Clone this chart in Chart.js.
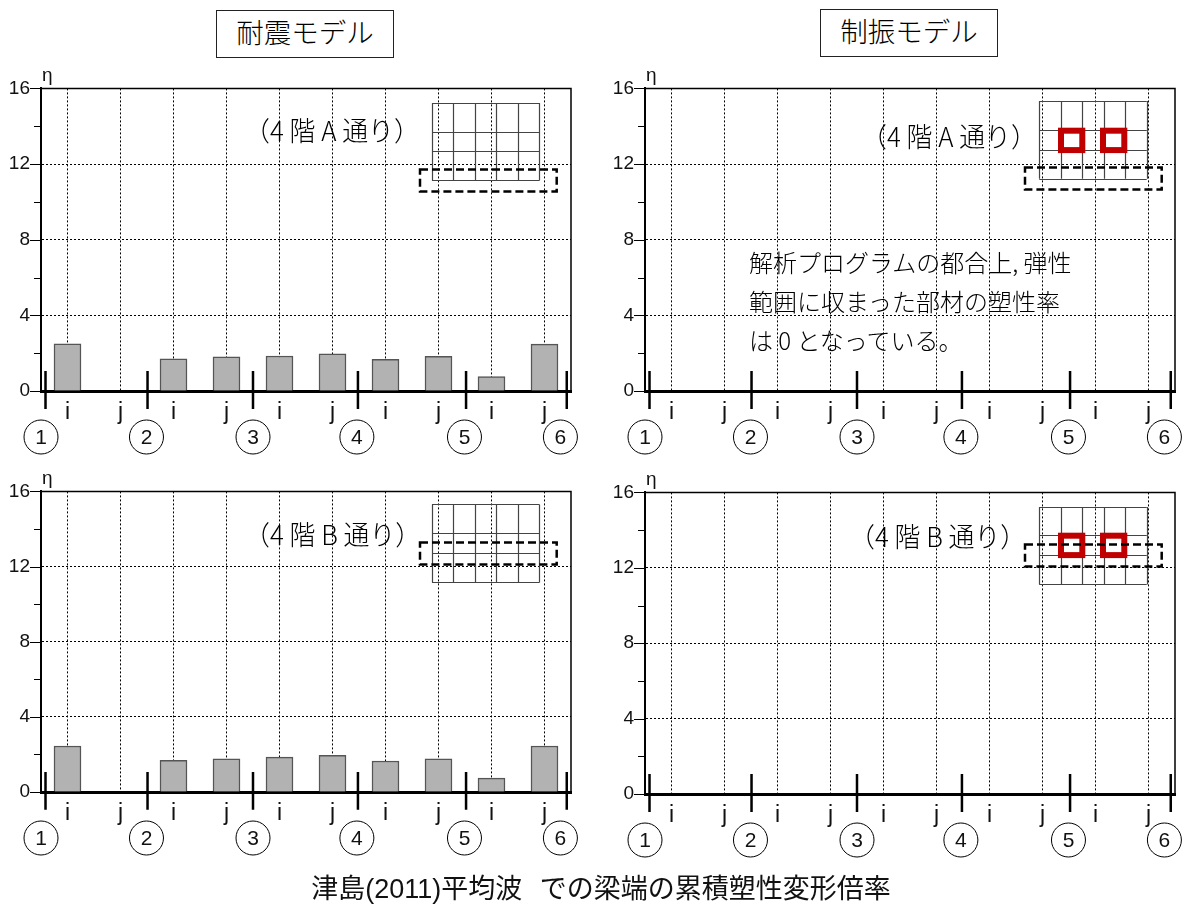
<!DOCTYPE html>
<html lang="ja">
<head>
    <meta charset="UTF-8">
    <title>累積塑性変形倍率</title>
    <script src="https://cdn.jsdelivr.net/npm/chart.js"></script>
    <style>
        body { margin: 0; background: #fff; color: #111; font-family: "Noto Sans CJK JP", sans-serif; }
        #page { position: relative; width: 1188px; height: 907px; overflow: hidden; }
        canvas { position: absolute; }
        .box { position: absolute; width: 176px; height: 46px; border: 1.5px solid #222; text-align: center; font-size: 27.5px; font-weight: 300; line-height: 40px; color: #000; }
        .floor { position: absolute; font-size: 27px; font-weight: 300; white-space: nowrap; transform-origin: left center; transform: scaleX(0.96); color: #000; }
        #note { position: absolute; left: 749px; top: 242px; font-size: 24px; font-weight: 300; line-height: 39px; white-space: nowrap; color: #000; }
        #caption { position: absolute; left: 7px; width: 1188px; top: 871px; text-align: center; font-size: 27px; word-spacing: 10px; line-height: 36px; font-family: "Liberation Sans", "Noto Sans CJK JP", sans-serif; }
    </style>
</head>
<body>
<div id="page">
    <canvas id="tl" width="590" height="404" style="left:0;top:66px"></canvas>
    <canvas id="tr" width="590" height="404" style="left:604px;top:66px"></canvas>
    <canvas id="bl" width="590" height="402" style="left:0;top:469px"></canvas>
    <canvas id="br" width="590" height="403" style="left:604px;top:470px"></canvas>

    <div class="box" style="left:216px;top:10px">耐震モデル</div>
    <div class="box" style="left:820px;top:9px">制振モデル</div>
    <div class="floor" style="left:244px;top:110px">（4 階 A 通り）</div>
    <div class="floor" style="left:861px;top:116px">（4 階 A 通り）</div>
    <div class="floor" style="left:244px;top:514px">（4 階 B 通り）</div>
    <div class="floor" style="left:849px;top:516px">（4 階 B 通り）</div>
    <div id="note">解析プログラムの都合上, 弾性<br>範囲に収まった部材の塑性率<br>は 0 となっている。</div>
    <div id="caption">津島(2011)平均波 での梁端の累積塑性変形倍率</div>
</div>

<script>
    const beamEnds = ['i', 'j', 'i', 'j', 'i', 'j', 'i', 'j', 'i', 'j'];
    const seismicA = [2.5, 0, 1.7, 1.81, 1.85, 1.97, 1.67, 1.83, 0.76, 2.48];
    const seismicB = [2.45, 0, 1.68, 1.77, 1.86, 1.95, 1.65, 1.77, 0.74, 2.45];
    const damperA = [0, 0, 0, 0, 0, 0, 0, 0, 0, 0];
    const damperB = [0, 0, 0, 0, 0, 0, 0, 0, 0, 0];
    const columnNames = ['1', '2', '3', '4', '5', '6'];
    const columnMarks = [-0.415, 1.51, 3.5, 5.48, 7.52, 9.42];
    const columnCircles = [-0.5, 1.49, 3.5, 5.46, 7.49, 9.3];

    const NARROW = '"Liberation Sans Narrow", "Liberation Sans", sans-serif';

    // small floor plan in the top right of every panel
    function drawInset(ctx, area, inset) {
        const cols = [0, 21.4, 42.8, 64.2, 85.6, 107.4];
        const x0 = area.left + inset.x, y0 = area.top + inset.y;
        ctx.save();
        ctx.strokeStyle = '#444';
        ctx.lineWidth = 1.2;
        ctx.beginPath();
        cols.forEach(c => {
            const px = Math.round(x0 + c) + 0.5;
            ctx.moveTo(px, y0);
            ctx.lineTo(px, y0 + inset.rows[3]);
        });
        inset.rows.forEach(r => {
            const py = Math.round(y0 + r) + 0.5;
            ctx.moveTo(x0, py);
            ctx.lineTo(x0 + 107.4, py);
        });
        ctx.stroke();
        if (inset.red) {
            ctx.strokeStyle = '#c00000';
            ctx.lineWidth = 6;
            [21.7, 63.7].forEach(c => ctx.strokeRect(x0 + c, y0 + inset.red, 21.3, 19.4));
        }
        ctx.strokeStyle = '#000';
        ctx.lineWidth = 2.5;
        ctx.setLineDash([8, 4]);
        ctx.strokeRect(x0 + inset.dashX, y0 + inset.dash, 136.7, 22);
        ctx.restore();
    }

    const panelExtras = {
        id: 'panelExtras',
        afterDatasetsDraw(chart, args, opts) {
            const { ctx, chartArea: area, scales: { x, y } } = chart;
            ctx.save();
            // top and right frame
            ctx.strokeStyle = '#000';
            ctx.lineWidth = 1.5;
            ctx.beginPath();
            ctx.moveTo(area.left, area.top);
            ctx.lineTo(area.right, area.top);
            ctx.lineTo(area.right, area.bottom);
            ctx.stroke();
            // y axis tick marks, long on labelled values
            ctx.lineWidth = 1;
            ctx.beginPath();
            y.ticks.forEach(t => {
                const py = Math.round(y.getPixelForValue(t.value)) + 0.5;
                ctx.moveTo(area.left, py);
                ctx.lineTo(area.left - (t.value % 4 === 0 ? 11 : 7), py);
            });
            ctx.stroke();
            // column lines crossing the beam axis
            ctx.lineWidth = 2.5;
            ctx.beginPath();
            columnMarks.forEach(c => {
                const px = x.getPixelForValue(c);
                ctx.moveTo(px, y.getPixelForValue(1.06));
                ctx.lineTo(px, y.getPixelForValue(-0.95));
            });
            ctx.stroke();
            // column number circles
            ctx.lineWidth = 1;
            ctx.fillStyle = '#111';
            ctx.font = '21px "Liberation Sans", sans-serif';
            ctx.textAlign = 'center';
            ctx.textBaseline = 'middle';
            columnCircles.forEach((c, i) => {
                const px = x.getPixelForValue(c), py = area.bottom + 46;
                ctx.beginPath();
                ctx.arc(px, py, 17, 0, Math.PI * 2);
                ctx.stroke();
                ctx.fillText(columnNames[i], px, py + 1);
            });
            ctx.font = '19px ' + NARROW;
            ctx.textAlign = 'left';
            ctx.fillText('η', area.left + 1, area.top - 13);
            ctx.restore();
            drawInset(ctx, area, opts.inset);
        }
    };

    function makePanel(id, values, inset) {
        new Chart(document.getElementById(id), {
            type: 'bar',
            data: {
                labels: beamEnds,
                datasets: [{
                    data: values,
                    backgroundColor: '#b2b2b2',
                    borderColor: '#555',
                    borderWidth: 1.5,
                    barThickness: 27
                }]
            },
            options: {
                responsive: false,
                animation: false,
                layout: { autoPadding: false, padding: { top: 22, right: 19 } },
                plugins: {
                    legend: { display: false },
                    tooltip: { enabled: false },
                    panelExtras: { inset: inset }
                },
                scales: {
                    x: {
                        afterFit: s => { s.height = 79; },
                        grid: { offset: false, color: '#000', lineWidth: 1, drawTicks: false },
                        border: { color: '#000', width: 3, dash: [2, 2] },
                        ticks: {
                            autoSkip: false, maxRotation: 0, padding: 8, color: '#111',
                            font: { family: NARROW, size: 23 }
                        }
                    },
                    y: {
                        min: 0,
                        max: 16,
                        afterFit: s => { s.width = 41; },
                        grid: {
                            drawTicks: false,
                            lineWidth: 1,
                            color: c => (c.tick.value % 4 === 0 && c.tick.value > 0 && c.tick.value < 16 ? '#000' : 'transparent')
                        },
                        border: { color: '#000', width: 2, dash: [2, 2] },
                        ticks: {
                            stepSize: 2, padding: 11, color: '#111',
                            font: { family: NARROW, size: 19 },
                            callback: v => (v % 4 === 0 ? v : '')
                        }
                    }
                }
            },
            plugins: [panelExtras]
        });
    }

    makePanel('tl', seismicA, { x: 391, y: 14.7, rows: [0, 29, 48.3, 77.3], dashX: -12, dash: 66.3 });
    makePanel('tr', damperA, { x: 394.3, y: 12.7, rows: [0, 29.3, 48.6, 77.6], dashX: -14.3, dash: 66.3, red: 29.6 });
    makePanel('bl', seismicB, { x: 391, y: 13, rows: [0, 29, 49, 78], dashX: -12, dash: 38 });
    makePanel('br', damperB, { x: 394.3, y: 14.7, rows: [0, 28.3, 48, 77.3], dashX: -14.3, dash: 37.3, red: 28.6 });
</script>
</body>
</html>
